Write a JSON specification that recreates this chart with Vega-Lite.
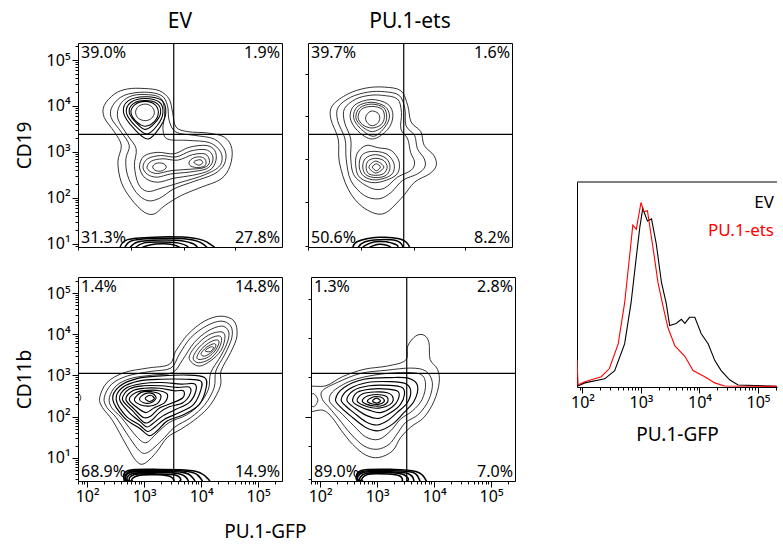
{
"$schema": "https://vega.github.io/schema/vega-lite/v6.json",
"background": "white",
"padding": {"left": 14, "top": 10, "right": 0, "bottom": 0},
"config": {
  "font": "Noto Sans",
  "view": {"stroke": "black", "strokeWidth": 1},
  "axis": {"grid": false, "domain": false, "tickColor": "black", "tickWidth": 1, "labelColor": "black", "labelFont": "Noto Sans", "labelFontSize": 16, "titleFont": "Noto Sans", "titleFontSize": 19, "titleFontWeight": "normal", "titleColor": "black", "labelFlush": false},
  "title": {"font": "Noto Sans", "fontSize": 21, "fontWeight": "normal", "color": "black", "anchor": "middle", "offset": 10},
  "text": {"font": "Noto Sans", "fontSize": 16, "color": "black"}
},
"datasets": {
"gates": [{"p":"a","gx":3.52,"gy":3.38},{"p":"b","gx":3.52,"gy":3.38},{"p":"c","gx":3.52,"gy":3.05},{"p":"d","gx":3.52,"gy":3.05}],
"labels": [
{"p":"a","q":"UL","t":"39.0%"},{"p":"a","q":"UR","t":"1.9%"},{"p":"a","q":"LL","t":"31.3%"},{"p":"a","q":"LR","t":"27.8%"},
{"p":"b","q":"UL","t":"39.7%"},{"p":"b","q":"UR","t":"1.6%"},{"p":"b","q":"LL","t":"50.6%"},{"p":"b","q":"LR","t":"8.2%"},
{"p":"c","q":"UL","t":"1.4%"},{"p":"c","q":"UR","t":"14.8%"},{"p":"c","q":"LL","t":"68.9%"},{"p":"c","q":"LR","t":"14.9%"},
{"p":"d","q":"UL","t":"1.3%"},{"p":"d","q":"UR","t":"2.8%"},{"p":"d","q":"LL","t":"89.0%"},{"p":"d","q":"LR","t":"7.0%"}],
"series": [{"s":"EV"},{"s":"PU.1-ets"}],
"hist": [
{"s":"EV","x":1.91,"y":10},{"s":"EV","x":1.92,"y":0.5},{"s":"EV","x":2.04,"y":2},{"s":"EV","x":2.38,"y":4},{"s":"EV","x":2.55,"y":8},{"s":"EV","x":2.72,"y":21},{"s":"EV","x":2.83,"y":41},{"s":"EV","x":2.92,"y":63.5},{"s":"EV","x":2.98,"y":78},{"s":"EV","x":3.03,"y":87},{"s":"EV","x":3.11,"y":81},{"s":"EV","x":3.18,"y":82},{"s":"EV","x":3.26,"y":70},{"s":"EV","x":3.35,"y":51},{"s":"EV","x":3.43,"y":41},{"s":"EV","x":3.49,"y":30},{"s":"EV","x":3.60,"y":31},{"s":"EV","x":3.69,"y":33},{"s":"EV","x":3.75,"y":31},{"s":"EV","x":3.83,"y":34},{"s":"EV","x":3.92,"y":34},{"s":"EV","x":4.03,"y":26},{"s":"EV","x":4.15,"y":21},{"s":"EV","x":4.26,"y":13},{"s":"EV","x":4.37,"y":8},{"s":"EV","x":4.52,"y":3.4},{"s":"EV","x":4.66,"y":1},{"s":"EV","x":5.32,"y":0.3},
{"s":"PU.1-ets","x":1.91,"y":13},{"s":"PU.1-ets","x":1.92,"y":1},{"s":"PU.1-ets","x":2.04,"y":2.6},{"s":"PU.1-ets","x":2.32,"y":5},{"s":"PU.1-ets","x":2.46,"y":9},{"s":"PU.1-ets","x":2.61,"y":21},{"s":"PU.1-ets","x":2.72,"y":41},{"s":"PU.1-ets","x":2.81,"y":65},{"s":"PU.1-ets","x":2.86,"y":79},{"s":"PU.1-ets","x":2.92,"y":77},{"s":"PU.1-ets","x":3.00,"y":90},{"s":"PU.1-ets","x":3.05,"y":85.5},{"s":"PU.1-ets","x":3.11,"y":86},{"s":"PU.1-ets","x":3.21,"y":67},{"s":"PU.1-ets","x":3.29,"y":51},{"s":"PU.1-ets","x":3.38,"y":39},{"s":"PU.1-ets","x":3.46,"y":29},{"s":"PU.1-ets","x":3.58,"y":20},{"s":"PU.1-ets","x":3.75,"y":15},{"s":"PU.1-ets","x":3.89,"y":8},{"s":"PU.1-ets","x":4.09,"y":5},{"s":"PU.1-ets","x":4.26,"y":2},{"s":"PU.1-ets","x":4.43,"y":0.5},{"s":"PU.1-ets","x":5.32,"y":0.3}],
"contours": [
{"p":"a","c":1,"x":3.00,"y":4.38},{"p":"a","c":1,"x":3.27,"y":4.33},{"p":"a","c":1,"x":3.44,"y":4.15},{"p":"a","c":1,"x":3.50,"y":3.86},{"p":"a","c":1,"x":3.56,"y":3.54},{"p":"a","c":1,"x":3.77,"y":3.44},{"p":"a","c":1,"x":4.12,"y":3.41},{"p":"a","c":1,"x":4.41,"y":3.32},{"p":"a","c":1,"x":4.54,"y":3.07},{"p":"a","c":1,"x":4.51,"y":2.70},{"p":"a","c":1,"x":4.35,"y":2.41},{"p":"a","c":1,"x":4.00,"y":2.23},{"p":"a","c":1,"x":3.65,"y":2.05},{"p":"a","c":1,"x":3.36,"y":1.83},{"p":"a","c":1,"x":3.18,"y":1.65},{"p":"a","c":1,"x":3.00,"y":1.69},{"p":"a","c":1,"x":2.77,"y":1.98},{"p":"a","c":1,"x":2.60,"y":2.34},{"p":"a","c":1,"x":2.54,"y":2.78},{"p":"a","c":1,"x":2.60,"y":3.14},{"p":"a","c":1,"x":2.48,"y":3.43},{"p":"a","c":1,"x":2.30,"y":3.75},{"p":"a","c":1,"x":2.30,"y":4.01},{"p":"a","c":1,"x":2.48,"y":4.26},{"p":"a","c":1,"x":2.71,"y":4.37},
{"p":"a","c":2,"x":3.00,"y":4.30},{"p":"a","c":2,"x":3.30,"y":4.23},{"p":"a","c":2,"x":3.41,"y":4.01},{"p":"a","c":2,"x":3.44,"y":3.68},{"p":"a","c":2,"x":3.56,"y":3.43},{"p":"a","c":2,"x":3.88,"y":3.36},{"p":"a","c":2,"x":4.23,"y":3.28},{"p":"a","c":2,"x":4.42,"y":3.03},{"p":"a","c":2,"x":4.41,"y":2.74},{"p":"a","c":2,"x":4.23,"y":2.52},{"p":"a","c":2,"x":3.88,"y":2.36},{"p":"a","c":2,"x":3.53,"y":2.20},{"p":"a","c":2,"x":3.27,"y":1.99},{"p":"a","c":2,"x":3.06,"y":1.94},{"p":"a","c":2,"x":2.86,"y":2.12},{"p":"a","c":2,"x":2.71,"y":2.49},{"p":"a","c":2,"x":2.68,"y":2.85},{"p":"a","c":2,"x":2.74,"y":3.14},{"p":"a","c":2,"x":2.60,"y":3.43},{"p":"a","c":2,"x":2.42,"y":3.75},{"p":"a","c":2,"x":2.45,"y":4.01},{"p":"a","c":2,"x":2.65,"y":4.23},
{"p":"a","c":3,"x":3.00,"y":4.25},{"p":"a","c":3,"x":3.29,"y":4.17},{"p":"a","c":3,"x":3.36,"y":3.83},{"p":"a","c":3,"x":3.33,"y":3.50},{"p":"a","c":3,"x":3.41,"y":3.28},{"p":"a","c":3,"x":3.77,"y":3.25},{"p":"a","c":3,"x":4.15,"y":3.20},{"p":"a","c":3,"x":4.35,"y":2.98},{"p":"a","c":3,"x":4.33,"y":2.70},{"p":"a","c":3,"x":4.06,"y":2.50},{"p":"a","c":3,"x":3.65,"y":2.34},{"p":"a","c":3,"x":3.30,"y":2.21},{"p":"a","c":3,"x":3.06,"y":2.14},{"p":"a","c":3,"x":2.90,"y":2.30},{"p":"a","c":3,"x":2.83,"y":2.70},{"p":"a","c":3,"x":2.86,"y":3.07},{"p":"a","c":3,"x":2.71,"y":3.36},{"p":"a","c":3,"x":2.54,"y":3.72},{"p":"a","c":3,"x":2.57,"y":4.01},{"p":"a","c":3,"x":2.74,"y":4.20},
{"p":"a","c":4,"x":2.64,"y":3.85},{"p":"a","c":4,"x":2.72,"y":4.11},{"p":"a","c":4,"x":3.02,"y":4.20},{"p":"a","c":4,"x":3.31,"y":4.12},{"p":"a","c":4,"x":3.38,"y":3.85},{"p":"a","c":4,"x":3.29,"y":3.56},{"p":"a","c":4,"x":3.07,"y":3.28},{"p":"a","c":4,"x":2.82,"y":3.51},
{"p":"a","c":5,"x":2.69,"y":3.85},{"p":"a","c":5,"x":2.77,"y":4.08},{"p":"a","c":5,"x":3.02,"y":4.16},{"p":"a","c":5,"x":3.27,"y":4.08},{"p":"a","c":5,"x":3.33,"y":3.85},{"p":"a","c":5,"x":3.24,"y":3.59},{"p":"a","c":5,"x":3.05,"y":3.39},{"p":"a","c":5,"x":2.85,"y":3.56},
{"p":"a","c":6,"x":2.74,"y":3.85},{"p":"a","c":6,"x":2.81,"y":4.05},{"p":"a","c":6,"x":3.02,"y":4.12},{"p":"a","c":6,"x":3.23,"y":4.05},{"p":"a","c":6,"x":3.29,"y":3.85},{"p":"a","c":6,"x":3.19,"y":3.63},{"p":"a","c":6,"x":3.03,"y":3.49},{"p":"a","c":6,"x":2.88,"y":3.61},
{"p":"a","c":7,"x":2.77,"y":3.85},{"p":"a","c":7,"x":2.84,"y":4.03},{"p":"a","c":7,"x":3.02,"y":4.10},{"p":"a","c":7,"x":3.19,"y":4.03},{"p":"a","c":7,"x":3.25,"y":3.85},{"p":"a","c":7,"x":3.18,"y":3.66},{"p":"a","c":7,"x":3.02,"y":3.56},{"p":"a","c":7,"x":2.88,"y":3.64},
{"p":"a","c":8,"x":2.85,"y":3.86},{"p":"a","c":8,"x":2.90,"y":3.99},{"p":"a","c":8,"x":3.02,"y":4.04},{"p":"a","c":8,"x":3.13,"y":3.99},{"p":"a","c":8,"x":3.18,"y":3.86},{"p":"a","c":8,"x":3.13,"y":3.73},{"p":"a","c":8,"x":3.02,"y":3.68},{"p":"a","c":8,"x":2.90,"y":3.73},
{"p":"a","c":9,"x":2.92,"y":2.67},{"p":"a","c":9,"x":3.00,"y":2.91},{"p":"a","c":9,"x":3.24,"y":2.99},{"p":"a","c":9,"x":3.53,"y":2.96},{"p":"a","c":9,"x":3.79,"y":3.10},{"p":"a","c":9,"x":4.09,"y":3.14},{"p":"a","c":9,"x":4.24,"y":3.03},{"p":"a","c":9,"x":4.26,"y":2.81},{"p":"a","c":9,"x":4.15,"y":2.60},{"p":"a","c":9,"x":3.85,"y":2.49},{"p":"a","c":9,"x":3.53,"y":2.43},{"p":"a","c":9,"x":3.24,"y":2.34},{"p":"a","c":9,"x":3.02,"y":2.43},
{"p":"a","c":10,"x":2.98,"y":2.67},{"p":"a","c":10,"x":3.06,"y":2.85},{"p":"a","c":10,"x":3.29,"y":2.92},{"p":"a","c":10,"x":3.56,"y":2.89},{"p":"a","c":10,"x":3.82,"y":3.02},{"p":"a","c":10,"x":4.07,"y":3.05},{"p":"a","c":10,"x":4.19,"y":2.95},{"p":"a","c":10,"x":4.20,"y":2.78},{"p":"a","c":10,"x":4.09,"y":2.63},{"p":"a","c":10,"x":3.79,"y":2.56},{"p":"a","c":10,"x":3.47,"y":2.52},{"p":"a","c":10,"x":3.23,"y":2.45},{"p":"a","c":10,"x":3.06,"y":2.51},
{"p":"a","c":11,"x":3.05,"y":2.67},{"p":"a","c":11,"x":3.13,"y":2.80},{"p":"a","c":11,"x":3.33,"y":2.85},{"p":"a","c":11,"x":3.59,"y":2.82},{"p":"a","c":11,"x":3.85,"y":2.94},{"p":"a","c":11,"x":4.05,"y":2.96},{"p":"a","c":11,"x":4.13,"y":2.88},{"p":"a","c":11,"x":4.14,"y":2.74},{"p":"a","c":11,"x":4.03,"y":2.65},{"p":"a","c":11,"x":3.77,"y":2.62},{"p":"a","c":11,"x":3.47,"y":2.59},{"p":"a","c":11,"x":3.24,"y":2.53},{"p":"a","c":11,"x":3.11,"y":2.57},
{"p":"a","c":12,"x":3.79,"y":2.78},{"p":"a","c":12,"x":3.87,"y":2.87},{"p":"a","c":12,"x":4.00,"y":2.89},{"p":"a","c":12,"x":4.08,"y":2.82},{"p":"a","c":12,"x":4.07,"y":2.70},{"p":"a","c":12,"x":3.95,"y":2.66},{"p":"a","c":12,"x":3.82,"y":2.69},
{"p":"a","c":13,"x":3.15,"y":2.67},{"p":"a","c":13,"x":3.21,"y":2.75},{"p":"a","c":13,"x":3.33,"y":2.75},{"p":"a","c":13,"x":3.39,"y":2.67},{"p":"a","c":13,"x":3.32,"y":2.59},{"p":"a","c":13,"x":3.21,"y":2.59},
{"p":"a","c":14,"x":3.87,"y":2.78},{"p":"a","c":14,"x":3.98,"y":2.83},{"p":"a","c":14,"x":4.03,"y":2.77},{"p":"a","c":14,"x":3.96,"y":2.71},
{"p":"a","c":15,"x":2.57,"y":0.89},{"p":"a","c":15,"x":2.71,"y":1.09},{"p":"a","c":15,"x":3.30,"y":1.15},{"p":"a","c":15,"x":3.88,"y":1.12},{"p":"a","c":15,"x":4.15,"y":1.00},{"p":"a","c":15,"x":4.19,"y":0.82},{"p":"a","c":15,"x":3.30,"y":0.60},{"p":"a","c":15,"x":2.60,"y":0.75},
{"p":"a","c":16,"x":2.65,"y":0.89},{"p":"a","c":16,"x":2.80,"y":1.07},{"p":"a","c":16,"x":3.30,"y":1.12},{"p":"a","c":16,"x":3.77,"y":1.10},{"p":"a","c":16,"x":4.03,"y":1.00},{"p":"a","c":16,"x":4.06,"y":0.82},{"p":"a","c":16,"x":3.30,"y":0.64},{"p":"a","c":16,"x":2.68,"y":0.75},
{"p":"a","c":17,"x":2.74,"y":0.89},{"p":"a","c":17,"x":2.89,"y":1.04},{"p":"a","c":17,"x":3.30,"y":1.08},{"p":"a","c":17,"x":3.68,"y":1.06},{"p":"a","c":17,"x":3.91,"y":0.96},{"p":"a","c":17,"x":3.91,"y":0.78},{"p":"a","c":17,"x":3.30,"y":0.67},{"p":"a","c":17,"x":2.77,"y":0.78},
{"p":"a","c":18,"x":2.83,"y":0.89},{"p":"a","c":18,"x":3.00,"y":1.02},{"p":"a","c":18,"x":3.30,"y":1.04},{"p":"a","c":18,"x":3.59,"y":1.02},{"p":"a","c":18,"x":3.77,"y":0.93},{"p":"a","c":18,"x":3.74,"y":0.78},{"p":"a","c":18,"x":3.30,"y":0.71},{"p":"a","c":18,"x":2.86,"y":0.78},
{"p":"a","c":19,"x":2.95,"y":0.88},{"p":"a","c":19,"x":3.12,"y":0.98},{"p":"a","c":19,"x":3.36,"y":1.00},{"p":"a","c":19,"x":3.56,"y":0.96},{"p":"a","c":19,"x":3.62,"y":0.88},{"p":"a","c":19,"x":3.30,"y":0.76},
{"p":"b","c":1,"x":3.18,"y":4.41},{"p":"b","c":1,"x":3.47,"y":4.33},{"p":"b","c":1,"x":3.59,"y":4.01},{"p":"b","c":1,"x":3.65,"y":3.65},{"p":"b","c":1,"x":3.82,"y":3.44},{"p":"b","c":1,"x":3.88,"y":3.14},{"p":"b","c":1,"x":4.05,"y":2.92},{"p":"b","c":1,"x":4.09,"y":2.70},{"p":"b","c":1,"x":3.97,"y":2.52},{"p":"b","c":1,"x":3.71,"y":2.34},{"p":"b","c":1,"x":3.47,"y":1.98},{"p":"b","c":1,"x":3.15,"y":1.65},{"p":"b","c":1,"x":2.80,"y":1.80},{"p":"b","c":1,"x":2.54,"y":2.20},{"p":"b","c":1,"x":2.39,"y":2.78},{"p":"b","c":1,"x":2.37,"y":3.28},{"p":"b","c":1,"x":2.24,"y":3.72},{"p":"b","c":1,"x":2.27,"y":4.01},{"p":"b","c":1,"x":2.54,"y":4.26},{"p":"b","c":1,"x":2.86,"y":4.39},
{"p":"b","c":2,"x":3.18,"y":4.31},{"p":"b","c":2,"x":3.44,"y":4.23},{"p":"b","c":2,"x":3.54,"y":3.94},{"p":"b","c":2,"x":3.56,"y":3.57},{"p":"b","c":2,"x":3.71,"y":3.36},{"p":"b","c":2,"x":3.76,"y":3.07},{"p":"b","c":2,"x":3.88,"y":2.85},{"p":"b","c":2,"x":3.89,"y":2.67},{"p":"b","c":2,"x":3.76,"y":2.52},{"p":"b","c":2,"x":3.50,"y":2.38},{"p":"b","c":2,"x":3.30,"y":2.12},{"p":"b","c":2,"x":3.09,"y":1.98},{"p":"b","c":2,"x":2.83,"y":2.05},{"p":"b","c":2,"x":2.59,"y":2.38},{"p":"b","c":2,"x":2.51,"y":2.85},{"p":"b","c":2,"x":2.49,"y":3.28},{"p":"b","c":2,"x":2.36,"y":3.68},{"p":"b","c":2,"x":2.37,"y":3.97},{"p":"b","c":2,"x":2.59,"y":4.19},{"p":"b","c":2,"x":2.89,"y":4.30},
{"p":"b","c":3,"x":3.15,"y":4.23},{"p":"b","c":3,"x":3.41,"y":4.15},{"p":"b","c":3,"x":3.48,"y":3.86},{"p":"b","c":3,"x":3.47,"y":3.50},{"p":"b","c":3,"x":3.59,"y":3.28},{"p":"b","c":3,"x":3.64,"y":2.99},{"p":"b","c":3,"x":3.71,"y":2.78},{"p":"b","c":3,"x":3.65,"y":2.60},{"p":"b","c":3,"x":3.41,"y":2.45},{"p":"b","c":3,"x":3.18,"y":2.21},{"p":"b","c":3,"x":2.95,"y":2.21},{"p":"b","c":3,"x":2.66,"y":2.47},{"p":"b","c":3,"x":2.59,"y":2.85},{"p":"b","c":3,"x":2.59,"y":3.28},{"p":"b","c":3,"x":2.48,"y":3.65},{"p":"b","c":3,"x":2.48,"y":3.94},{"p":"b","c":3,"x":2.68,"y":4.15},{"p":"b","c":3,"x":2.92,"y":4.23},
{"p":"b","c":4,"x":2.58,"y":3.75},{"p":"b","c":4,"x":2.66,"y":4.02},{"p":"b","c":4,"x":2.95,"y":4.14},{"p":"b","c":4,"x":3.24,"y":4.04},{"p":"b","c":4,"x":3.33,"y":3.79},{"p":"b","c":4,"x":3.24,"y":3.49},{"p":"b","c":4,"x":2.97,"y":3.28},{"p":"b","c":4,"x":2.71,"y":3.46},
{"p":"b","c":5,"x":2.64,"y":3.75},{"p":"b","c":5,"x":2.71,"y":3.99},{"p":"b","c":5,"x":2.95,"y":4.08},{"p":"b","c":5,"x":3.19,"y":3.99},{"p":"b","c":5,"x":3.27,"y":3.78},{"p":"b","c":5,"x":3.19,"y":3.54},{"p":"b","c":5,"x":2.99,"y":3.34},{"p":"b","c":5,"x":2.76,"y":3.51},
{"p":"b","c":6,"x":2.68,"y":3.75},{"p":"b","c":6,"x":2.75,"y":3.96},{"p":"b","c":6,"x":2.96,"y":4.04},{"p":"b","c":6,"x":3.17,"y":3.96},{"p":"b","c":6,"x":3.22,"y":3.75},{"p":"b","c":6,"x":3.16,"y":3.56},{"p":"b","c":6,"x":2.97,"y":3.44},{"p":"b","c":6,"x":2.78,"y":3.56},
{"p":"b","c":7,"x":2.72,"y":3.75},{"p":"b","c":7,"x":2.78,"y":3.93},{"p":"b","c":7,"x":2.96,"y":3.99},{"p":"b","c":7,"x":3.14,"y":3.93},{"p":"b","c":7,"x":3.18,"y":3.75},{"p":"b","c":7,"x":3.12,"y":3.59},{"p":"b","c":7,"x":2.96,"y":3.52},{"p":"b","c":7,"x":2.80,"y":3.59},
{"p":"b","c":8,"x":2.85,"y":3.73},{"p":"b","c":8,"x":2.89,"y":3.84},{"p":"b","c":8,"x":2.97,"y":3.89},{"p":"b","c":8,"x":3.07,"y":3.84},{"p":"b","c":8,"x":3.10,"y":3.73},{"p":"b","c":8,"x":3.06,"y":3.62},{"p":"b","c":8,"x":2.97,"y":3.57},{"p":"b","c":8,"x":2.89,"y":3.62},
{"p":"b","c":9,"x":2.68,"y":2.67},{"p":"b","c":9,"x":2.70,"y":2.96},{"p":"b","c":9,"x":2.86,"y":3.14},{"p":"b","c":9,"x":3.07,"y":3.09},{"p":"b","c":9,"x":3.30,"y":3.03},{"p":"b","c":9,"x":3.44,"y":2.78},{"p":"b","c":9,"x":3.38,"y":2.49},{"p":"b","c":9,"x":3.03,"y":2.33},{"p":"b","c":9,"x":2.76,"y":2.43},
{"p":"b","c":10,"x":2.74,"y":2.67},{"p":"b","c":10,"x":2.78,"y":2.92},{"p":"b","c":10,"x":2.95,"y":3.01},{"p":"b","c":10,"x":3.21,"y":2.96},{"p":"b","c":10,"x":3.35,"y":2.74},{"p":"b","c":10,"x":3.30,"y":2.50},{"p":"b","c":10,"x":3.03,"y":2.39},{"p":"b","c":10,"x":2.82,"y":2.47},
{"p":"b","c":11,"x":2.80,"y":2.67},{"p":"b","c":11,"x":2.85,"y":2.86},{"p":"b","c":11,"x":3.02,"y":2.94},{"p":"b","c":11,"x":3.21,"y":2.86},{"p":"b","c":11,"x":3.28,"y":2.67},{"p":"b","c":11,"x":3.21,"y":2.49},{"p":"b","c":11,"x":3.03,"y":2.44},{"p":"b","c":11,"x":2.86,"y":2.50},
{"p":"b","c":12,"x":2.86,"y":2.67},{"p":"b","c":12,"x":2.90,"y":2.81},{"p":"b","c":12,"x":3.03,"y":2.86},{"p":"b","c":12,"x":3.17,"y":2.81},{"p":"b","c":12,"x":3.23,"y":2.67},{"p":"b","c":12,"x":3.17,"y":2.53},{"p":"b","c":12,"x":3.03,"y":2.49},{"p":"b","c":12,"x":2.90,"y":2.53},
{"p":"b","c":13,"x":2.91,"y":2.67},{"p":"b","c":13,"x":3.03,"y":2.80},{"p":"b","c":13,"x":3.17,"y":2.67},{"p":"b","c":13,"x":3.03,"y":2.54},
{"p":"b","c":14,"x":2.97,"y":2.67},{"p":"b","c":14,"x":3.04,"y":2.74},{"p":"b","c":14,"x":3.11,"y":2.67},{"p":"b","c":14,"x":3.04,"y":2.59},
{"p":"b","c":15,"x":2.62,"y":0.89},{"p":"b","c":15,"x":2.71,"y":1.05},{"p":"b","c":15,"x":3.09,"y":1.14},{"p":"b","c":15,"x":3.44,"y":1.11},{"p":"b","c":15,"x":3.60,"y":0.98},{"p":"b","c":15,"x":3.59,"y":0.78},{"p":"b","c":15,"x":3.09,"y":0.60},{"p":"b","c":15,"x":2.65,"y":0.75},
{"p":"b","c":16,"x":2.71,"y":0.89},{"p":"b","c":16,"x":2.83,"y":1.04},{"p":"b","c":16,"x":3.09,"y":1.09},{"p":"b","c":16,"x":3.38,"y":1.07},{"p":"b","c":16,"x":3.50,"y":0.95},{"p":"b","c":16,"x":3.47,"y":0.78},{"p":"b","c":16,"x":3.09,"y":0.64},{"p":"b","c":16,"x":2.74,"y":0.76},
{"p":"b","c":17,"x":2.80,"y":0.88},{"p":"b","c":17,"x":2.92,"y":1.01},{"p":"b","c":17,"x":3.09,"y":1.05},{"p":"b","c":17,"x":3.30,"y":1.02},{"p":"b","c":17,"x":3.41,"y":0.92},{"p":"b","c":17,"x":3.09,"y":0.71},
{"p":"b","c":18,"x":2.89,"y":0.88},{"p":"b","c":18,"x":3.09,"y":0.99},{"p":"b","c":18,"x":3.30,"y":0.91},{"p":"b","c":18,"x":3.09,"y":0.75},
{"p":"c","c":1,"x":2.22,"y":2.46},{"p":"c","c":1,"x":2.35,"y":2.83},{"p":"c","c":1,"x":2.65,"y":3.07},{"p":"c","c":1,"x":3.06,"y":3.18},{"p":"c","c":1,"x":3.44,"y":3.27},{"p":"c","c":1,"x":3.56,"y":3.60},{"p":"c","c":1,"x":3.77,"y":4.00},{"p":"c","c":1,"x":4.06,"y":4.32},{"p":"c","c":1,"x":4.35,"y":4.44},{"p":"c","c":1,"x":4.58,"y":4.32},{"p":"c","c":1,"x":4.63,"y":3.96},{"p":"c","c":1,"x":4.52,"y":3.56},{"p":"c","c":1,"x":4.35,"y":3.11},{"p":"c","c":1,"x":4.34,"y":2.75},{"p":"c","c":1,"x":4.17,"y":2.30},{"p":"c","c":1,"x":3.94,"y":1.98},{"p":"c","c":1,"x":3.65,"y":1.70},{"p":"c","c":1,"x":3.41,"y":1.50},{"p":"c","c":1,"x":3.21,"y":1.13},{"p":"c","c":1,"x":3.00,"y":0.86},{"p":"c","c":1,"x":2.86,"y":0.93},{"p":"c","c":1,"x":2.68,"y":1.33},{"p":"c","c":1,"x":2.45,"y":1.90},{"p":"c","c":1,"x":2.27,"y":2.22},
{"p":"c","c":2,"x":2.30,"y":2.46},{"p":"c","c":2,"x":2.43,"y":2.79},{"p":"c","c":2,"x":2.71,"y":2.99},{"p":"c","c":2,"x":3.12,"y":3.10},{"p":"c","c":2,"x":3.47,"y":3.18},{"p":"c","c":2,"x":3.62,"y":3.52},{"p":"c","c":2,"x":3.82,"y":3.92},{"p":"c","c":2,"x":4.09,"y":4.20},{"p":"c","c":2,"x":4.35,"y":4.32},{"p":"c","c":2,"x":4.52,"y":4.20},{"p":"c","c":2,"x":4.54,"y":3.92},{"p":"c","c":2,"x":4.42,"y":3.52},{"p":"c","c":2,"x":4.26,"y":3.11},{"p":"c","c":2,"x":4.23,"y":2.71},{"p":"c","c":2,"x":4.07,"y":2.30},{"p":"c","c":2,"x":3.82,"y":1.98},{"p":"c","c":2,"x":3.53,"y":1.74},{"p":"c","c":2,"x":3.30,"y":1.41},{"p":"c","c":2,"x":3.06,"y":1.13},{"p":"c","c":2,"x":2.92,"y":1.17},{"p":"c","c":2,"x":2.74,"y":1.50},{"p":"c","c":2,"x":2.51,"y":1.98},{"p":"c","c":2,"x":2.35,"y":2.22},
{"p":"c","c":3,"x":2.39,"y":2.46},{"p":"c","c":3,"x":2.51,"y":2.75},{"p":"c","c":3,"x":2.77,"y":2.93},{"p":"c","c":3,"x":3.15,"y":3.01},{"p":"c","c":3,"x":3.50,"y":3.07},{"p":"c","c":3,"x":3.68,"y":3.39},{"p":"c","c":3,"x":3.88,"y":3.80},{"p":"c","c":3,"x":4.12,"y":4.08},{"p":"c","c":3,"x":4.36,"y":4.20},{"p":"c","c":3,"x":4.48,"y":4.08},{"p":"c","c":3,"x":4.47,"y":3.84},{"p":"c","c":3,"x":4.35,"y":3.48},{"p":"c","c":3,"x":4.17,"y":3.07},{"p":"c","c":3,"x":4.13,"y":2.67},{"p":"c","c":3,"x":3.97,"y":2.30},{"p":"c","c":3,"x":3.74,"y":2.04},{"p":"c","c":3,"x":3.44,"y":1.86},{"p":"c","c":3,"x":3.21,"y":1.58},{"p":"c","c":3,"x":3.03,"y":1.37},{"p":"c","c":3,"x":2.86,"y":1.53},{"p":"c","c":3,"x":2.60,"y":1.98},{"p":"c","c":3,"x":2.43,"y":2.22},
{"p":"c","c":4,"x":3.79,"y":3.42},{"p":"c","c":4,"x":3.91,"y":3.72},{"p":"c","c":4,"x":4.13,"y":3.98},{"p":"c","c":4,"x":4.35,"y":4.06},{"p":"c","c":4,"x":4.42,"y":3.94},{"p":"c","c":4,"x":4.35,"y":3.61},{"p":"c","c":4,"x":4.16,"y":3.35},{"p":"c","c":4,"x":3.95,"y":3.23},
{"p":"c","c":5,"x":3.86,"y":3.43},{"p":"c","c":5,"x":3.97,"y":3.69},{"p":"c","c":5,"x":4.16,"y":3.90},{"p":"c","c":5,"x":4.32,"y":3.96},{"p":"c","c":5,"x":4.36,"y":3.85},{"p":"c","c":5,"x":4.29,"y":3.60},{"p":"c","c":5,"x":4.14,"y":3.39},{"p":"c","c":5,"x":3.95,"y":3.31},
{"p":"c","c":6,"x":3.93,"y":3.47},{"p":"c","c":6,"x":4.02,"y":3.66},{"p":"c","c":6,"x":4.17,"y":3.82},{"p":"c","c":6,"x":4.29,"y":3.86},{"p":"c","c":6,"x":4.31,"y":3.77},{"p":"c","c":6,"x":4.23,"y":3.57},{"p":"c","c":6,"x":4.10,"y":3.43},{"p":"c","c":6,"x":3.96,"y":3.39},
{"p":"c","c":7,"x":4.00,"y":3.53},{"p":"c","c":7,"x":4.09,"y":3.68},{"p":"c","c":7,"x":4.22,"y":3.77},{"p":"c","c":7,"x":4.26,"y":3.72},{"p":"c","c":7,"x":4.19,"y":3.57},{"p":"c","c":7,"x":4.06,"y":3.47},
{"p":"c","c":8,"x":4.07,"y":3.60},{"p":"c","c":8,"x":4.16,"y":3.69},{"p":"c","c":8,"x":4.22,"y":3.68},{"p":"c","c":8,"x":4.16,"y":3.58},
{"p":"c","c":9,"x":2.45,"y":2.42},{"p":"c","c":9,"x":2.57,"y":2.74},{"p":"c","c":9,"x":2.89,"y":2.93},{"p":"c","c":9,"x":3.30,"y":2.99},{"p":"c","c":9,"x":3.77,"y":3.01},{"p":"c","c":9,"x":4.06,"y":2.95},{"p":"c","c":9,"x":4.09,"y":2.71},{"p":"c","c":9,"x":3.97,"y":2.30},{"p":"c","c":9,"x":3.71,"y":2.06},{"p":"c","c":9,"x":3.41,"y":1.90},{"p":"c","c":9,"x":3.24,"y":1.67},{"p":"c","c":9,"x":3.09,"y":1.54},{"p":"c","c":9,"x":2.92,"y":1.72},{"p":"c","c":9,"x":2.65,"y":1.98},
{"p":"c","c":10,"x":2.51,"y":2.42},{"p":"c","c":10,"x":2.62,"y":2.71},{"p":"c","c":10,"x":2.92,"y":2.87},{"p":"c","c":10,"x":3.30,"y":2.91},{"p":"c","c":10,"x":3.74,"y":2.91},{"p":"c","c":10,"x":3.99,"y":2.87},{"p":"c","c":10,"x":4.00,"y":2.67},{"p":"c","c":10,"x":3.87,"y":2.30},{"p":"c","c":10,"x":3.62,"y":2.10},{"p":"c","c":10,"x":3.36,"y":1.94},{"p":"c","c":10,"x":3.19,"y":1.75},{"p":"c","c":10,"x":3.06,"y":1.64},{"p":"c","c":10,"x":2.92,"y":1.80},{"p":"c","c":10,"x":2.68,"y":2.02},
{"p":"c","c":11,"x":2.57,"y":2.42},{"p":"c","c":11,"x":2.68,"y":2.69},{"p":"c","c":11,"x":2.95,"y":2.80},{"p":"c","c":11,"x":3.30,"y":2.83},{"p":"c","c":11,"x":3.65,"y":2.79},{"p":"c","c":11,"x":3.88,"y":2.80},{"p":"c","c":11,"x":3.91,"y":2.63},{"p":"c","c":11,"x":3.79,"y":2.34},{"p":"c","c":11,"x":3.56,"y":2.18},{"p":"c","c":11,"x":3.33,"y":2.02},{"p":"c","c":11,"x":3.15,"y":1.83},{"p":"c","c":11,"x":3.05,"y":1.75},{"p":"c","c":11,"x":2.93,"y":1.88},{"p":"c","c":11,"x":2.74,"y":2.10},
{"p":"c","c":12,"x":2.62,"y":2.42},{"p":"c","c":12,"x":2.74,"y":2.67},{"p":"c","c":12,"x":2.98,"y":2.75},{"p":"c","c":12,"x":3.30,"y":2.75},{"p":"c","c":12,"x":3.59,"y":2.71},{"p":"c","c":12,"x":3.79,"y":2.72},{"p":"c","c":12,"x":3.81,"y":2.56},{"p":"c","c":12,"x":3.68,"y":2.34},{"p":"c","c":12,"x":3.44,"y":2.24},{"p":"c","c":12,"x":3.27,"y":2.10},{"p":"c","c":12,"x":3.12,"y":1.90},{"p":"c","c":12,"x":3.00,"y":1.86},{"p":"c","c":12,"x":2.80,"y":2.14},
{"p":"c","c":13,"x":2.68,"y":2.42},{"p":"c","c":13,"x":2.80,"y":2.63},{"p":"c","c":13,"x":3.00,"y":2.69},{"p":"c","c":13,"x":3.27,"y":2.69},{"p":"c","c":13,"x":3.53,"y":2.63},{"p":"c","c":13,"x":3.69,"y":2.63},{"p":"c","c":13,"x":3.68,"y":2.46},{"p":"c","c":13,"x":3.47,"y":2.32},{"p":"c","c":13,"x":3.27,"y":2.21},{"p":"c","c":13,"x":3.12,"y":2.02},{"p":"c","c":13,"x":2.99,"y":1.98},{"p":"c","c":13,"x":2.83,"y":2.18},
{"p":"c","c":14,"x":2.74,"y":2.42},{"p":"c","c":14,"x":2.86,"y":2.59},{"p":"c","c":14,"x":3.06,"y":2.64},{"p":"c","c":14,"x":3.27,"y":2.63},{"p":"c","c":14,"x":3.41,"y":2.54},{"p":"c","c":14,"x":3.36,"y":2.34},{"p":"c","c":14,"x":3.18,"y":2.22},{"p":"c","c":14,"x":3.03,"y":2.10},{"p":"c","c":14,"x":2.86,"y":2.24},
{"p":"c","c":15,"x":2.83,"y":2.42},{"p":"c","c":15,"x":2.95,"y":2.59},{"p":"c","c":15,"x":3.12,"y":2.61},{"p":"c","c":15,"x":3.29,"y":2.53},{"p":"c","c":15,"x":3.25,"y":2.34},{"p":"c","c":15,"x":3.11,"y":2.26},{"p":"c","c":15,"x":2.93,"y":2.29},
{"p":"c","c":16,"x":2.92,"y":2.44},{"p":"c","c":16,"x":3.02,"y":2.56},{"p":"c","c":16,"x":3.15,"y":2.56},{"p":"c","c":16,"x":3.21,"y":2.45},{"p":"c","c":16,"x":3.12,"y":2.34},{"p":"c","c":16,"x":2.99,"y":2.34},
{"p":"c","c":17,"x":3.02,"y":2.45},{"p":"c","c":17,"x":3.11,"y":2.52},{"p":"c","c":17,"x":3.18,"y":2.44},{"p":"c","c":17,"x":3.09,"y":2.37},
{"p":"c","c":18,"x":1.81,"y":2.46},{"p":"c","c":18,"x":1.85,"y":2.56},{"p":"c","c":18,"x":1.89,"y":2.46},{"p":"c","c":18,"x":1.85,"y":2.36},
{"p":"c","c":19,"x":2.65,"y":0.43},{"p":"c","c":19,"x":2.71,"y":0.69},{"p":"c","c":19,"x":3.30,"y":0.72},{"p":"c","c":19,"x":3.85,"y":0.69},{"p":"c","c":19,"x":4.07,"y":0.56},{"p":"c","c":19,"x":4.09,"y":0.36},{"p":"c","c":19,"x":3.30,"y":0.20},{"p":"c","c":19,"x":2.68,"y":0.28},
{"p":"c","c":20,"x":2.68,"y":0.43},{"p":"c","c":20,"x":2.74,"y":0.67},{"p":"c","c":20,"x":3.30,"y":0.70},{"p":"c","c":20,"x":3.77,"y":0.67},{"p":"c","c":20,"x":3.95,"y":0.57},{"p":"c","c":20,"x":3.97,"y":0.36},{"p":"c","c":20,"x":3.30,"y":0.24},{"p":"c","c":20,"x":2.71,"y":0.28},
{"p":"c","c":21,"x":2.71,"y":0.43},{"p":"c","c":21,"x":2.77,"y":0.65},{"p":"c","c":21,"x":3.30,"y":0.67},{"p":"c","c":21,"x":3.68,"y":0.65},{"p":"c","c":21,"x":3.84,"y":0.54},{"p":"c","c":21,"x":3.85,"y":0.36},{"p":"c","c":21,"x":3.30,"y":0.27},
{"p":"c","c":22,"x":2.74,"y":0.43},{"p":"c","c":22,"x":2.80,"y":0.62},{"p":"c","c":22,"x":3.30,"y":0.65},{"p":"c","c":22,"x":3.59,"y":0.62},{"p":"c","c":22,"x":3.74,"y":0.52},{"p":"c","c":22,"x":3.74,"y":0.36},{"p":"c","c":22,"x":3.30,"y":0.30},
{"p":"c","c":23,"x":2.77,"y":0.43},{"p":"c","c":23,"x":2.83,"y":0.60},{"p":"c","c":23,"x":3.24,"y":0.61},{"p":"c","c":23,"x":3.56,"y":0.58},{"p":"c","c":23,"x":3.62,"y":0.43},{"p":"c","c":23,"x":3.24,"y":0.32},
{"p":"c","c":24,"x":2.80,"y":0.43},{"p":"c","c":24,"x":2.89,"y":0.57},{"p":"c","c":24,"x":3.24,"y":0.59},{"p":"c","c":24,"x":3.47,"y":0.54},{"p":"c","c":24,"x":3.50,"y":0.40},{"p":"c","c":24,"x":3.18,"y":0.32},
{"p":"d","c":1,"x":1.72,"y":2.69},{"p":"d","c":1,"x":2.10,"y":2.75},{"p":"d","c":1,"x":2.39,"y":2.97},{"p":"d","c":1,"x":2.77,"y":3.15},{"p":"d","c":1,"x":3.18,"y":3.23},{"p":"d","c":1,"x":3.50,"y":3.37},{"p":"d","c":1,"x":3.54,"y":3.72},{"p":"d","c":1,"x":3.68,"y":3.96},{"p":"d","c":1,"x":3.82,"y":3.98},{"p":"d","c":1,"x":3.91,"y":3.80},{"p":"d","c":1,"x":3.93,"y":3.39},{"p":"d","c":1,"x":4.06,"y":3.15},{"p":"d","c":1,"x":4.09,"y":2.83},{"p":"d","c":1,"x":4.00,"y":2.38},{"p":"d","c":1,"x":3.82,"y":1.98},{"p":"d","c":1,"x":3.59,"y":1.75},{"p":"d","c":1,"x":3.41,"y":1.49},{"p":"d","c":1,"x":3.27,"y":1.17},{"p":"d","c":1,"x":3.03,"y":1.01},{"p":"d","c":1,"x":2.80,"y":1.07},{"p":"d","c":1,"x":2.57,"y":1.33},{"p":"d","c":1,"x":2.37,"y":1.67},{"p":"d","c":1,"x":2.21,"y":1.98},{"p":"d","c":1,"x":2.04,"y":2.16},{"p":"d","c":1,"x":1.72,"y":2.14},
{"p":"d","c":2,"x":1.80,"y":2.42},{"p":"d","c":2,"x":1.88,"y":2.56},{"p":"d","c":2,"x":1.96,"y":2.40},{"p":"d","c":2,"x":1.88,"y":2.24},
{"p":"d","c":3,"x":2.04,"y":2.63},{"p":"d","c":3,"x":2.30,"y":2.83},{"p":"d","c":3,"x":2.71,"y":3.05},{"p":"d","c":3,"x":3.18,"y":3.13},{"p":"d","c":3,"x":3.59,"y":3.18},{"p":"d","c":3,"x":3.85,"y":3.11},{"p":"d","c":3,"x":3.97,"y":2.83},{"p":"d","c":3,"x":3.91,"y":2.42},{"p":"d","c":3,"x":3.73,"y":2.06},{"p":"d","c":3,"x":3.50,"y":1.86},{"p":"d","c":3,"x":3.35,"y":1.58},{"p":"d","c":3,"x":3.21,"y":1.33},{"p":"d","c":3,"x":3.00,"y":1.21},{"p":"d","c":3,"x":2.77,"y":1.29},{"p":"d","c":3,"x":2.54,"y":1.58},{"p":"d","c":3,"x":2.33,"y":1.94},{"p":"d","c":3,"x":2.16,"y":2.22},{"p":"d","c":3,"x":2.04,"y":2.42},
{"p":"d","c":4,"x":2.16,"y":2.42},{"p":"d","c":4,"x":2.24,"y":2.63},{"p":"d","c":4,"x":2.54,"y":2.87},{"p":"d","c":4,"x":2.95,"y":3.01},{"p":"d","c":4,"x":3.41,"y":3.07},{"p":"d","c":4,"x":3.76,"y":3.03},{"p":"d","c":4,"x":3.85,"y":2.79},{"p":"d","c":4,"x":3.79,"y":2.42},{"p":"d","c":4,"x":3.62,"y":2.14},{"p":"d","c":4,"x":3.41,"y":1.94},{"p":"d","c":4,"x":3.24,"y":1.66},{"p":"d","c":4,"x":3.03,"y":1.45},{"p":"d","c":4,"x":2.80,"y":1.51},{"p":"d","c":4,"x":2.59,"y":1.78},{"p":"d","c":4,"x":2.39,"y":2.06},{"p":"d","c":4,"x":2.23,"y":2.26},
{"p":"d","c":5,"x":2.27,"y":2.42},{"p":"d","c":5,"x":2.42,"y":2.71},{"p":"d","c":5,"x":2.77,"y":2.91},{"p":"d","c":5,"x":3.24,"y":2.95},{"p":"d","c":5,"x":3.56,"y":2.93},{"p":"d","c":5,"x":3.71,"y":2.75},{"p":"d","c":5,"x":3.65,"y":2.38},{"p":"d","c":5,"x":3.47,"y":2.10},{"p":"d","c":5,"x":3.27,"y":1.82},{"p":"d","c":5,"x":3.03,"y":1.66},{"p":"d","c":5,"x":2.80,"y":1.74},{"p":"d","c":5,"x":2.57,"y":1.98},{"p":"d","c":5,"x":2.37,"y":2.22},
{"p":"d","c":6,"x":2.37,"y":2.42},{"p":"d","c":6,"x":2.51,"y":2.67},{"p":"d","c":6,"x":2.83,"y":2.83},{"p":"d","c":6,"x":3.24,"y":2.85},{"p":"d","c":6,"x":3.50,"y":2.80},{"p":"d","c":6,"x":3.59,"y":2.63},{"p":"d","c":6,"x":3.53,"y":2.34},{"p":"d","c":6,"x":3.35,"y":2.10},{"p":"d","c":6,"x":3.18,"y":1.90},{"p":"d","c":6,"x":3.00,"y":1.80},{"p":"d","c":6,"x":2.80,"y":1.88},{"p":"d","c":6,"x":2.59,"y":2.10},{"p":"d","c":6,"x":2.45,"y":2.26},
{"p":"d","c":7,"x":2.47,"y":2.40},{"p":"d","c":7,"x":2.58,"y":2.63},{"p":"d","c":7,"x":2.86,"y":2.75},{"p":"d","c":7,"x":3.21,"y":2.76},{"p":"d","c":7,"x":3.44,"y":2.71},{"p":"d","c":7,"x":3.48,"y":2.54},{"p":"d","c":7,"x":3.41,"y":2.30},{"p":"d","c":7,"x":3.24,"y":2.10},{"p":"d","c":7,"x":3.03,"y":1.96},{"p":"d","c":7,"x":2.83,"y":2.02},{"p":"d","c":7,"x":2.62,"y":2.20},
{"p":"d","c":8,"x":2.57,"y":2.38},{"p":"d","c":8,"x":2.65,"y":2.59},{"p":"d","c":8,"x":2.89,"y":2.67},{"p":"d","c":8,"x":3.18,"y":2.67},{"p":"d","c":8,"x":3.37,"y":2.61},{"p":"d","c":8,"x":3.37,"y":2.42},{"p":"d","c":8,"x":3.27,"y":2.24},{"p":"d","c":8,"x":3.06,"y":2.10},{"p":"d","c":8,"x":2.86,"y":2.16},{"p":"d","c":8,"x":2.68,"y":2.26},
{"p":"d","c":9,"x":2.65,"y":2.38},{"p":"d","c":9,"x":2.74,"y":2.55},{"p":"d","c":9,"x":2.95,"y":2.60},{"p":"d","c":9,"x":3.18,"y":2.58},{"p":"d","c":9,"x":3.28,"y":2.46},{"p":"d","c":9,"x":3.23,"y":2.30},{"p":"d","c":9,"x":3.03,"y":2.21},{"p":"d","c":9,"x":2.83,"y":2.24},
{"p":"d","c":10,"x":2.74,"y":2.38},{"p":"d","c":10,"x":2.83,"y":2.50},{"p":"d","c":10,"x":2.99,"y":2.54},{"p":"d","c":10,"x":3.15,"y":2.50},{"p":"d","c":10,"x":3.19,"y":2.38},{"p":"d","c":10,"x":3.11,"y":2.28},{"p":"d","c":10,"x":2.96,"y":2.26},{"p":"d","c":10,"x":2.82,"y":2.30},
{"p":"d","c":11,"x":2.83,"y":2.38},{"p":"d","c":11,"x":2.90,"y":2.46},{"p":"d","c":11,"x":3.00,"y":2.49},{"p":"d","c":11,"x":3.10,"y":2.45},{"p":"d","c":11,"x":3.12,"y":2.36},{"p":"d","c":11,"x":3.02,"y":2.30},{"p":"d","c":11,"x":2.89,"y":2.32},
{"p":"d","c":12,"x":2.92,"y":2.38},{"p":"d","c":12,"x":2.99,"y":2.45},{"p":"d","c":12,"x":3.06,"y":2.38},{"p":"d","c":12,"x":2.99,"y":2.33},
{"p":"d","c":13,"x":2.65,"y":0.43},{"p":"d","c":13,"x":2.71,"y":0.69},{"p":"d","c":13,"x":3.30,"y":0.72},{"p":"d","c":13,"x":3.68,"y":0.67},{"p":"d","c":13,"x":3.83,"y":0.52},{"p":"d","c":13,"x":3.83,"y":0.32},{"p":"d","c":13,"x":3.30,"y":0.20},{"p":"d","c":13,"x":2.68,"y":0.28},
{"p":"d","c":14,"x":2.68,"y":0.43},{"p":"d","c":14,"x":2.74,"y":0.67},{"p":"d","c":14,"x":3.30,"y":0.69},{"p":"d","c":14,"x":3.62,"y":0.65},{"p":"d","c":14,"x":3.73,"y":0.51},{"p":"d","c":14,"x":3.72,"y":0.32},{"p":"d","c":14,"x":3.30,"y":0.24},
{"p":"d","c":15,"x":2.70,"y":0.43},{"p":"d","c":15,"x":2.77,"y":0.65},{"p":"d","c":15,"x":3.30,"y":0.66},{"p":"d","c":15,"x":3.54,"y":0.62},{"p":"d","c":15,"x":3.64,"y":0.48},{"p":"d","c":15,"x":3.59,"y":0.32},{"p":"d","c":15,"x":3.30,"y":0.27},
{"p":"d","c":16,"x":2.72,"y":0.43},{"p":"d","c":16,"x":2.80,"y":0.62},{"p":"d","c":16,"x":3.24,"y":0.64},{"p":"d","c":16,"x":3.47,"y":0.59},{"p":"d","c":16,"x":3.53,"y":0.44},{"p":"d","c":16,"x":3.18,"y":0.30},
{"p":"d","c":17,"x":2.75,"y":0.43},{"p":"d","c":17,"x":2.83,"y":0.60},{"p":"d","c":17,"x":3.18,"y":0.61},{"p":"d","c":17,"x":3.40,"y":0.56},{"p":"d","c":17,"x":3.42,"y":0.41},{"p":"d","c":17,"x":3.12,"y":0.32}
]
},
"hconcat": [
 {"vconcat": [
  {"hconcat": [
   {"width": 204, "height": 204, "title": {"text": "EV"},
    "resolve": {"axis": {"y": "independent"}},
    "layer": [
     {"data": {"name": "contours"}, "transform": [{"filter": "datum.p == 'a'"}],
      "mark": {"type": "line", "interpolate": "cardinal-closed", "clip": true, "color": "black"},
      "encoding": {
       "x": {"field": "x", "type": "quantitative", "scale": {"domain": [1.84, 5.42], "nice": false, "zero": false},
             "axis": {"values": [1.845,1.903,1.954,2,2.301,2.477,2.602,2.699,2.778,2.845,2.903,2.954,3,3.301,3.477,3.602,3.699,3.778,3.845,3.903,3.954,4,4.301,4.477,4.602,4.699,4.778,4.845,4.903,4.954,5,5.301], "labels": false, "title": null, "tickSize": {"condition": {"test": "datum.value % 1 === 0", "value": 6}, "value": 3}}},
       "y": {"field": "y", "type": "quantitative", "scale": {"domain": [0.93, 5.37], "nice": false, "zero": false},
             "axis": {"orient": "left", "values": [0.954,1,1.301,1.477,1.602,1.699,1.778,1.845,1.903,1.954,2,2.301,2.477,2.602,2.699,2.778,2.845,2.903,2.954,3,3.301,3.477,3.602,3.699,3.778,3.845,3.903,3.954,4,4.301,4.477,4.602,4.699,4.778,4.845,4.903,4.954,5,5.301], "labels": false, "title": null, "tickSize": {"condition": {"test": "datum.value % 1 === 0", "value": 6}, "value": 3}}},
       "detail": {"field": "c", "type": "nominal"},
       "strokeWidth": {"condition": [{"test": "datum.c >= 15", "value": 1.5}, {"test": "datum.c >= 4 && datum.c <= 7", "value": 1.05}], "value": 0.8},
       "order": {"value": null}
      }},
     {"data": {"name": "gates"}, "transform": [{"filter": "datum.p == 'a'"}], "mark": {"type": "rule", "color": "black", "strokeWidth": 1.2}, "encoding": {"x": {"field": "gx", "type": "quantitative"}}},
     {"data": {"name": "gates"}, "transform": [{"filter": "datum.p == 'a'"}], "mark": {"type": "rule", "color": "black", "strokeWidth": 1.2},
      "encoding": {"y": {"field": "gy", "type": "quantitative", "axis": {"orient": "left", "values": [1,2,3,4,5], "labelExpr": "'10' + ['⁰','¹','²','³','⁴','⁵'][datum.value]", "ticks": false, "tickSize": 0, "labelPadding": 8, "title": "CD19", "titlePadding": 12}}}},
     {"data": {"name": "labels"}, "transform": [{"filter": "datum.p == 'a' && datum.q == 'UL'"}], "mark": {"type": "text", "align": "left", "baseline": "top", "dx": 3, "dy": 2}, "encoding": {"x": {"datum": 1.84, "type": "quantitative"}, "y": {"datum": 5.37, "type": "quantitative", "axis": null}, "text": {"field": "t"}}},
     {"data": {"name": "labels"}, "transform": [{"filter": "datum.p == 'a' && datum.q == 'UR'"}], "mark": {"type": "text", "align": "right", "baseline": "top", "dx": -2, "dy": 2}, "encoding": {"x": {"datum": 5.42, "type": "quantitative"}, "y": {"datum": 5.37, "type": "quantitative", "axis": null}, "text": {"field": "t"}}},
     {"data": {"name": "labels"}, "transform": [{"filter": "datum.p == 'a' && datum.q == 'LL'"}], "mark": {"type": "text", "align": "left", "baseline": "bottom", "dx": 3, "dy": -1}, "encoding": {"x": {"datum": 1.84, "type": "quantitative"}, "y": {"datum": 0.93, "type": "quantitative", "axis": null}, "text": {"field": "t"}}},
     {"data": {"name": "labels"}, "transform": [{"filter": "datum.p == 'a' && datum.q == 'LR'"}], "mark": {"type": "text", "align": "right", "baseline": "bottom", "dx": -2, "dy": -1}, "encoding": {"x": {"datum": 5.42, "type": "quantitative"}, "y": {"datum": 0.93, "type": "quantitative", "axis": null}, "text": {"field": "t"}}}
    ]},
   {"width": 204, "height": 204, "title": {"text": "PU.1-ets"},
    "layer": [
     {"data": {"name": "contours"}, "transform": [{"filter": "datum.p == 'b'"}],
      "mark": {"type": "line", "interpolate": "cardinal-closed", "clip": true, "color": "black"},
      "encoding": {
       "x": {"field": "x", "type": "quantitative", "scale": {"domain": [1.84, 5.42], "nice": false, "zero": false},
             "axis": {"values": [1.845,1.903,1.954,2,2.301,2.477,2.602,2.699,2.778,2.845,2.903,2.954,3,3.301,3.477,3.602,3.699,3.778,3.845,3.903,3.954,4,4.301,4.477,4.602,4.699,4.778,4.845,4.903,4.954,5,5.301], "labels": false, "title": null, "tickSize": {"condition": {"test": "datum.value % 1 === 0", "value": 6}, "value": 3}}},
       "y": {"field": "y", "type": "quantitative", "scale": {"domain": [0.93, 5.37], "nice": false, "zero": false},
             "axis": {"values": [0.954,1,1.301,1.477,1.602,1.699,1.778,1.845,1.903,1.954,2,2.301,2.477,2.602,2.699,2.778,2.845,2.903,2.954,3,3.301,3.477,3.602,3.699,3.778,3.845,3.903,3.954,4,4.301,4.477,4.602,4.699,4.778,4.845,4.903,4.954,5,5.301], "labels": false, "title": null, "tickSize": {"condition": {"test": "datum.value % 1 === 0", "value": 6}, "value": 3}}},
       "detail": {"field": "c", "type": "nominal"},
       "strokeWidth": {"condition": {"test": "datum.c >= 15", "value": 1.5}, "value": 0.8},
       "order": {"value": null}
      }},
     {"data": {"name": "gates"}, "transform": [{"filter": "datum.p == 'b'"}], "mark": {"type": "rule", "color": "black", "strokeWidth": 1.2}, "encoding": {"x": {"field": "gx", "type": "quantitative"}}},
     {"data": {"name": "gates"}, "transform": [{"filter": "datum.p == 'b'"}], "mark": {"type": "rule", "color": "black", "strokeWidth": 1.2}, "encoding": {"y": {"field": "gy", "type": "quantitative"}}},
     {"data": {"name": "labels"}, "transform": [{"filter": "datum.p == 'b' && datum.q == 'UL'"}], "mark": {"type": "text", "align": "left", "baseline": "top", "dx": 3, "dy": 2}, "encoding": {"x": {"datum": 1.84, "type": "quantitative"}, "y": {"datum": 5.37, "type": "quantitative"}, "text": {"field": "t"}}},
     {"data": {"name": "labels"}, "transform": [{"filter": "datum.p == 'b' && datum.q == 'UR'"}], "mark": {"type": "text", "align": "right", "baseline": "top", "dx": -2, "dy": 2}, "encoding": {"x": {"datum": 5.42, "type": "quantitative"}, "y": {"datum": 5.37, "type": "quantitative"}, "text": {"field": "t"}}},
     {"data": {"name": "labels"}, "transform": [{"filter": "datum.p == 'b' && datum.q == 'LL'"}], "mark": {"type": "text", "align": "left", "baseline": "bottom", "dx": 3, "dy": -1}, "encoding": {"x": {"datum": 1.84, "type": "quantitative"}, "y": {"datum": 0.93, "type": "quantitative"}, "text": {"field": "t"}}},
     {"data": {"name": "labels"}, "transform": [{"filter": "datum.p == 'b' && datum.q == 'LR'"}], "mark": {"type": "text", "align": "right", "baseline": "bottom", "dx": -2, "dy": -1}, "encoding": {"x": {"datum": 5.42, "type": "quantitative"}, "y": {"datum": 0.93, "type": "quantitative"}, "text": {"field": "t"}}}
    ]}
  ], "spacing": 20},
  {"hconcat": [
   {"width": 204, "height": 204,
    "resolve": {"axis": {"x": "independent", "y": "independent"}},
    "layer": [
     {"data": {"name": "contours"}, "transform": [{"filter": "datum.p == 'c'"}],
      "mark": {"type": "line", "interpolate": "cardinal-closed", "clip": true, "color": "black"},
      "encoding": {
       "x": {"field": "x", "type": "quantitative", "scale": {"domain": [1.84, 5.42], "nice": false, "zero": false},
             "axis": {"orient": "bottom", "values": [1.845,1.903,1.954,2,2.301,2.477,2.602,2.699,2.778,2.845,2.903,2.954,3,3.301,3.477,3.602,3.699,3.778,3.845,3.903,3.954,4,4.301,4.477,4.602,4.699,4.778,4.845,4.903,4.954,5,5.301], "labels": false, "title": null, "tickSize": {"condition": {"test": "datum.value % 1 === 0", "value": 6}, "value": 3}}},
       "y": {"field": "y", "type": "quantitative", "scale": {"domain": [0.44, 5.39], "nice": false, "zero": false},
             "axis": {"orient": "left", "values": [0.477,0.602,0.699,0.778,0.845,0.903,0.954,1,1.301,1.477,1.602,1.699,1.778,1.845,1.903,1.954,2,2.301,2.477,2.602,2.699,2.778,2.845,2.903,2.954,3,3.301,3.477,3.602,3.699,3.778,3.845,3.903,3.954,4,4.301,4.477,4.602,4.699,4.778,4.845,4.903,4.954,5,5.301], "labels": false, "title": null, "tickSize": {"condition": {"test": "datum.value % 1 === 0", "value": 6}, "value": 3}}},
       "detail": {"field": "c", "type": "nominal"},
       "strokeWidth": {"condition": [{"test": "datum.c >= 19", "value": 1.6}, {"test": "datum.c >= 9 && datum.c <= 17", "value": 1.15}], "value": 0.8},
       "order": {"value": null}
      }},
     {"data": {"name": "gates"}, "transform": [{"filter": "datum.p == 'c'"}], "mark": {"type": "rule", "color": "black", "strokeWidth": 1.2},
      "encoding": {"x": {"field": "gx", "type": "quantitative", "axis": {"orient": "bottom", "values": [2,3,4,5], "labelExpr": "'10' + ['⁰','¹','²','³','⁴','⁵'][datum.value]", "ticks": false, "tickSize": 0, "labelPadding": 7, "title": null}}}},
     {"data": {"name": "gates"}, "transform": [{"filter": "datum.p == 'c'"}], "mark": {"type": "rule", "color": "black", "strokeWidth": 1.2},
      "encoding": {"y": {"field": "gy", "type": "quantitative", "axis": {"orient": "left", "values": [1,2,3,4,5], "labelExpr": "'10' + ['⁰','¹','²','³','⁴','⁵'][datum.value]", "ticks": false, "tickSize": 0, "labelPadding": 8, "title": "CD11b", "titlePadding": 12}}}},
     {"data": {"name": "labels"}, "transform": [{"filter": "datum.p == 'c' && datum.q == 'UL'"}], "mark": {"type": "text", "align": "left", "baseline": "top", "dx": 3, "dy": 2}, "encoding": {"x": {"datum": 1.84, "type": "quantitative", "axis": null}, "y": {"datum": 5.39, "type": "quantitative", "axis": null}, "text": {"field": "t"}}},
     {"data": {"name": "labels"}, "transform": [{"filter": "datum.p == 'c' && datum.q == 'UR'"}], "mark": {"type": "text", "align": "right", "baseline": "top", "dx": -2, "dy": 2}, "encoding": {"x": {"datum": 5.42, "type": "quantitative", "axis": null}, "y": {"datum": 5.39, "type": "quantitative", "axis": null}, "text": {"field": "t"}}},
     {"data": {"name": "labels"}, "transform": [{"filter": "datum.p == 'c' && datum.q == 'LL'"}], "mark": {"type": "text", "align": "left", "baseline": "bottom", "dx": 3, "dy": -1}, "encoding": {"x": {"datum": 1.84, "type": "quantitative", "axis": null}, "y": {"datum": 0.44, "type": "quantitative", "axis": null}, "text": {"field": "t"}}},
     {"data": {"name": "labels"}, "transform": [{"filter": "datum.p == 'c' && datum.q == 'LR'"}], "mark": {"type": "text", "align": "right", "baseline": "bottom", "dx": -2, "dy": -1}, "encoding": {"x": {"datum": 5.42, "type": "quantitative", "axis": null}, "y": {"datum": 0.44, "type": "quantitative", "axis": null}, "text": {"field": "t"}}}
    ]},
   {"width": 204, "height": 204,
    "resolve": {"axis": {"x": "independent"}},
    "layer": [
     {"data": {"name": "contours"}, "transform": [{"filter": "datum.p == 'd'"}],
      "mark": {"type": "line", "interpolate": "cardinal-closed", "clip": true, "color": "black"},
      "encoding": {
       "x": {"field": "x", "type": "quantitative", "scale": {"domain": [1.84, 5.42], "nice": false, "zero": false},
             "axis": {"orient": "bottom", "values": [1.845,1.903,1.954,2,2.301,2.477,2.602,2.699,2.778,2.845,2.903,2.954,3,3.301,3.477,3.602,3.699,3.778,3.845,3.903,3.954,4,4.301,4.477,4.602,4.699,4.778,4.845,4.903,4.954,5,5.301], "labels": false, "title": null, "tickSize": {"condition": {"test": "datum.value % 1 === 0", "value": 6}, "value": 3}}},
       "y": {"field": "y", "type": "quantitative", "scale": {"domain": [0.44, 5.39], "nice": false, "zero": false},
             "axis": {"values": [0.477,0.602,0.699,0.778,0.845,0.903,0.954,1,1.301,1.477,1.602,1.699,1.778,1.845,1.903,1.954,2,2.301,2.477,2.602,2.699,2.778,2.845,2.903,2.954,3,3.301,3.477,3.602,3.699,3.778,3.845,3.903,3.954,4,4.301,4.477,4.602,4.699,4.778,4.845,4.903,4.954,5,5.301], "labels": false, "title": null, "tickSize": {"condition": {"test": "datum.value % 1 === 0", "value": 6}, "value": 3}}},
       "detail": {"field": "c", "type": "nominal"},
       "strokeWidth": {"condition": [{"test": "datum.c >= 13", "value": 1.6}, {"test": "datum.c >= 5 && datum.c <= 12", "value": 1.15}], "value": 0.8},
       "order": {"value": null}
      }},
     {"data": {"name": "gates"}, "transform": [{"filter": "datum.p == 'd'"}], "mark": {"type": "rule", "color": "black", "strokeWidth": 1.2},
      "encoding": {"x": {"field": "gx", "type": "quantitative", "axis": {"orient": "bottom", "values": [2,3,4,5], "labelExpr": "'10' + ['⁰','¹','²','³','⁴','⁵'][datum.value]", "ticks": false, "tickSize": 0, "labelPadding": 7, "title": null}}}},
     {"data": {"name": "gates"}, "transform": [{"filter": "datum.p == 'd'"}], "mark": {"type": "rule", "color": "black", "strokeWidth": 1.2}, "encoding": {"y": {"field": "gy", "type": "quantitative"}}},
     {"data": {"name": "labels"}, "transform": [{"filter": "datum.p == 'd' && datum.q == 'UL'"}], "mark": {"type": "text", "align": "left", "baseline": "top", "dx": 3, "dy": 2}, "encoding": {"x": {"datum": 1.84, "type": "quantitative", "axis": null}, "y": {"datum": 5.39, "type": "quantitative"}, "text": {"field": "t"}}},
     {"data": {"name": "labels"}, "transform": [{"filter": "datum.p == 'd' && datum.q == 'UR'"}], "mark": {"type": "text", "align": "right", "baseline": "top", "dx": -2, "dy": 2}, "encoding": {"x": {"datum": 5.42, "type": "quantitative", "axis": null}, "y": {"datum": 5.39, "type": "quantitative"}, "text": {"field": "t"}}},
     {"data": {"name": "labels"}, "transform": [{"filter": "datum.p == 'd' && datum.q == 'LL'"}], "mark": {"type": "text", "align": "left", "baseline": "bottom", "dx": 3, "dy": -1}, "encoding": {"x": {"datum": 1.84, "type": "quantitative", "axis": null}, "y": {"datum": 0.44, "type": "quantitative"}, "text": {"field": "t"}}},
     {"data": {"name": "labels"}, "transform": [{"filter": "datum.p == 'd' && datum.q == 'LR'"}], "mark": {"type": "text", "align": "right", "baseline": "bottom", "dx": -2, "dy": -1}, "encoding": {"x": {"datum": 5.42, "type": "quantitative", "axis": null}, "y": {"datum": 0.44, "type": "quantitative"}, "text": {"field": "t"}}}
    ]}
  ], "spacing": 20}
 ], "spacing": 22,
 "title": {"text": "PU.1-GFP", "orient": "bottom", "anchor": "middle", "fontSize": 19, "offset": 18}},
 {"vconcat": [
  {"width": 200, "height": 118, "view": {"stroke": null}, "data": {"name": "series"}, "mark": {"type": "text", "opacity": 0}, "encoding": {"text": {"field": "s"}}},
  {"width": 200, "height": 205, "view": {"stroke": null},
   "resolve": {"axis": {"x": "independent"}},
   "layer": [
    {"data": {"name": "hist"}, "mark": {"type": "line", "strokeWidth": 1.1, "clip": true},
     "encoding": {
      "x": {"field": "x", "type": "quantitative", "scale": {"domain": [1.906, 5.325], "nice": false, "zero": false},
            "axis": {"orient": "bottom", "values": [1.954,2,2.301,2.477,2.602,2.699,2.778,2.845,2.903,2.954,3,3.301,3.477,3.602,3.699,3.778,3.845,3.903,3.954,4,4.301,4.477,4.602,4.699,4.778,4.845,4.903,4.954,5,5.301], "labels": false, "title": null, "domain": true, "domainColor": "black", "tickSize": {"condition": {"test": "datum.value % 1 === 0", "value": 6}, "value": 3}}},
      "y": {"field": "y", "type": "quantitative", "scale": {"domain": [0, 100], "nice": false, "zero": false},
            "axis": {"labels": false, "ticks": false, "title": null, "domain": true, "domainColor": "black"}},
      "color": {"field": "s", "type": "nominal", "scale": {"domain": ["EV", "PU.1-ets"], "range": ["#000000", "#ff0000"]}, "legend": null}
     }},
    {"data": {"name": "series"}, "transform": [{"filter": "datum.s == 'EV'"}], "mark": {"type": "rule", "color": "black", "strokeWidth": 1}, "encoding": {"y": {"datum": 100, "type": "quantitative"}}},
    {"data": {"name": "series"}, "transform": [{"filter": "datum.s == 'EV'"}], "mark": {"type": "text", "align": "right", "baseline": "middle", "dx": -3, "fontSize": 17},
     "encoding": {"x": {"datum": 5.325, "type": "quantitative", "axis": {"orient": "bottom", "values": [2,3,4,5], "labelExpr": "'10' + ['⁰','¹','²','³','⁴','⁵'][datum.value]", "ticks": false, "tickSize": 0, "labelPadding": 7, "title": "PU.1-GFP", "titlePadding": 15}}, "y": {"datum": 90, "type": "quantitative"}, "text": {"field": "s"}, "color": {"field": "s", "type": "nominal"}}},
    {"data": {"name": "series"}, "transform": [{"filter": "datum.s == 'PU.1-ets'"}], "mark": {"type": "text", "align": "right", "baseline": "middle", "dx": -3, "fontSize": 17},
     "encoding": {"x": {"datum": 5.325, "type": "quantitative", "axis": null}, "y": {"datum": 76, "type": "quantitative"}, "text": {"field": "s"}, "color": {"field": "s", "type": "nominal"}}}
   ]}
 ], "spacing": 20}
],
"spacing": 53
}
